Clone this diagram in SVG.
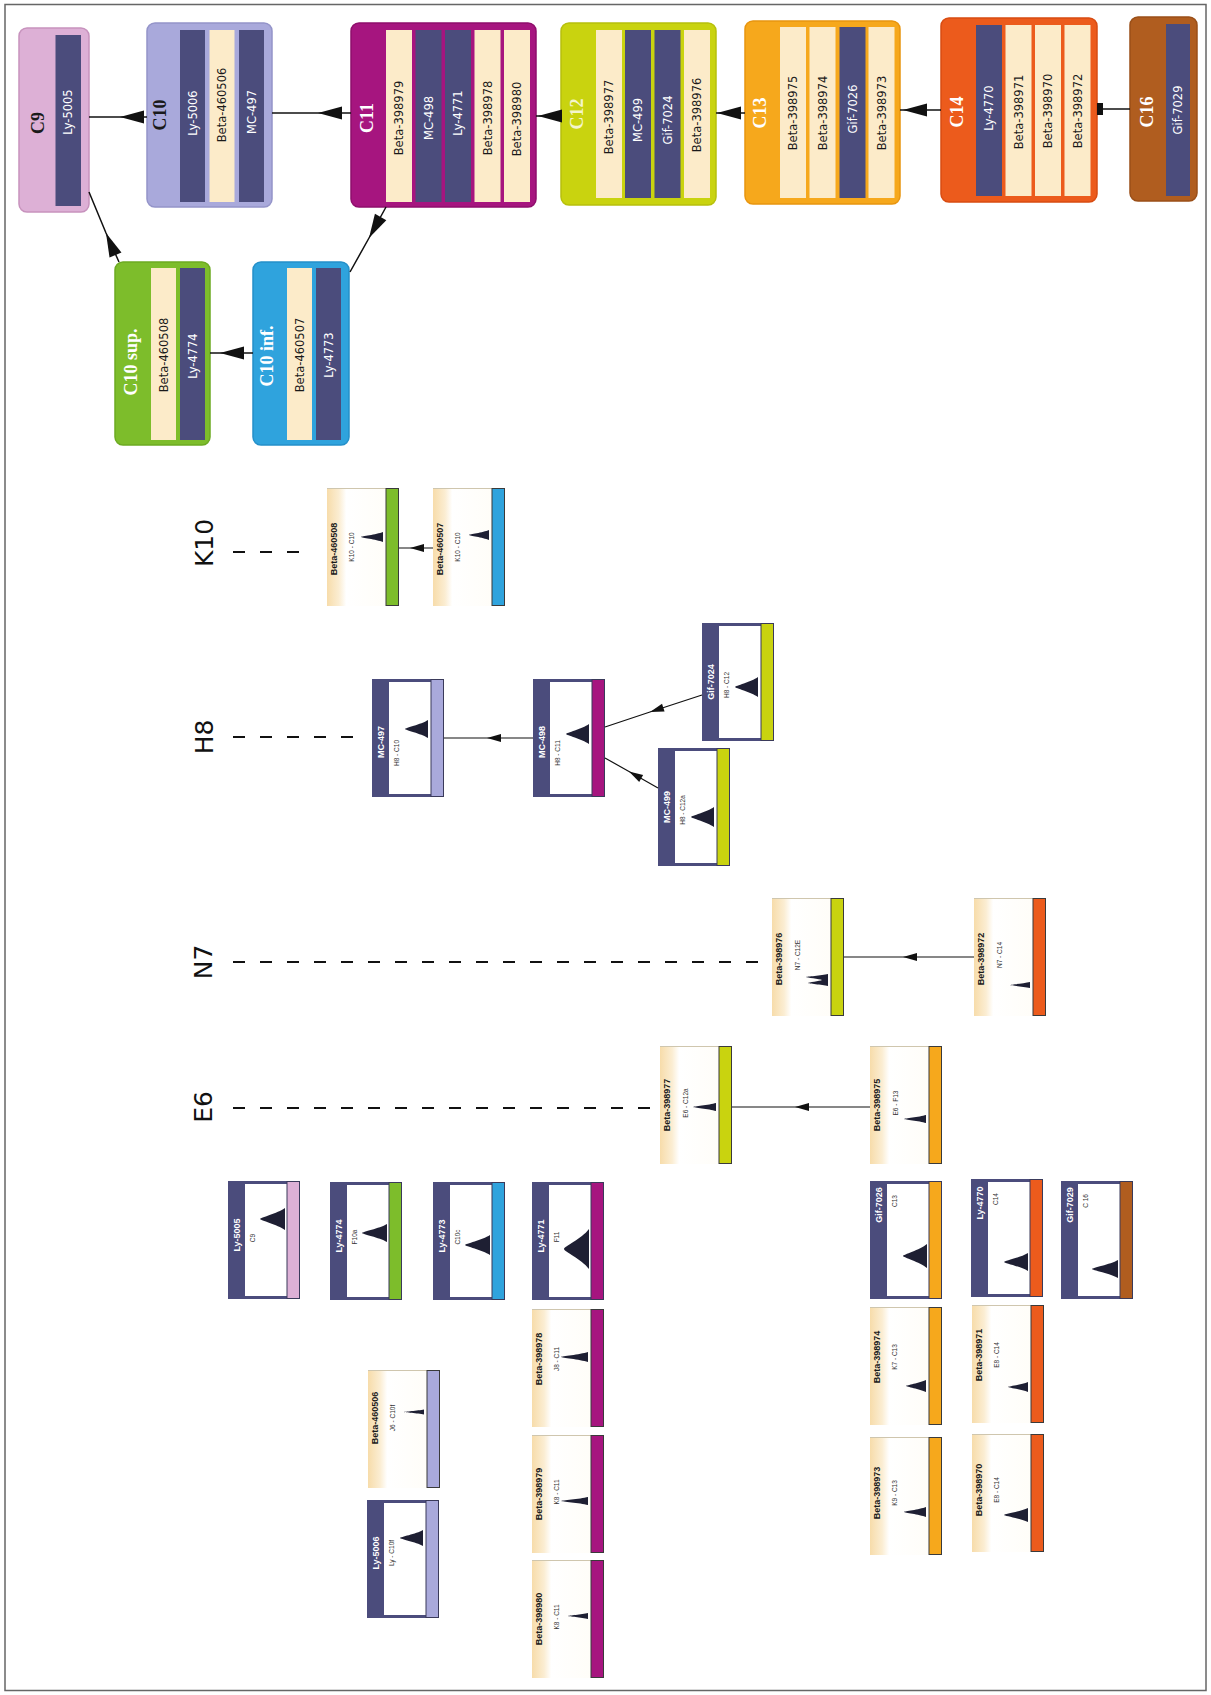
<svg xmlns="http://www.w3.org/2000/svg" xmlns:xlink="http://www.w3.org/1999/xlink" width="1211" height="1695" viewBox="0 0 1211 1695">
<style>
.box{stroke-width:1.5}
.ttl{font-family:"Liberation Serif",serif;font-weight:bold;font-size:18px;text-anchor:middle;dominant-baseline:central}
.lbl{font-family:"DejaVu Sans",sans-serif;font-size:11.5px;text-anchor:middle;dominant-baseline:central}
.lw{fill:#ffffff}
.ld{fill:#1a1a1a}
.lvl{font-family:"DejaVu Sans",sans-serif;font-size:25px;fill:#111;text-anchor:middle;dominant-baseline:central}
.cn{font-family:"Liberation Sans",sans-serif;font-weight:bold;font-size:9px;text-anchor:middle;dominant-baseline:central}
.cs{font-family:"Liberation Sans",sans-serif;font-size:6.5px;fill:#333;text-anchor:middle;dominant-baseline:central}
.pk{fill:#1e1f33}
.dk{fill:#4b4c7c}
.cr{fill:#fcebc9}
.con{fill:none;stroke:#111;stroke-width:1.5}
.cons{fill:none;stroke:#111;stroke-width:1.2}
.dash{fill:none;stroke:#111;stroke-width:2;stroke-dasharray:12 15}
</style>
<defs>
<linearGradient id="creamHead" x1="0" y1="0" x2="1" y2="0">
<stop offset="0" stop-color="#f7dcaa"/>
<stop offset="0.2" stop-color="#fbedd2"/>
<stop offset="0.32" stop-color="#ffffff"/>
<stop offset="1" stop-color="#fffdf8"/>
</linearGradient>
<marker id="arrowBig" viewBox="-25 -8 26 16" refX="0" refY="0" markerWidth="26" markerHeight="16" markerUnits="userSpaceOnUse" orient="auto">
<path d="M0,0 L-24,-6.5 L-24,6.5 Z" fill="#111"/>
</marker>
<marker id="arrowSmall" viewBox="-15 -5 16 10" refX="0" refY="0" markerWidth="16" markerHeight="10" markerUnits="userSpaceOnUse" orient="auto">
<path d="M0,0 L-14,-4 L-14,4 Z" fill="#111"/>
</marker>
<marker id="tee" viewBox="-7 -7 8 14" refX="0" refY="0" markerWidth="8" markerHeight="14" markerUnits="userSpaceOnUse" orient="auto">
<rect x="-6" y="-6" width="6" height="12" fill="#111"/>
</marker>
<g id="darkCard">
<rect x="0" y="0" width="72" height="118" fill="#4b4c7c"/>
<rect x="17" y="3" width="42" height="112" fill="#ffffff"/>
<rect x="59" y="0.5" width="12.5" height="117" fill="currentColor" stroke="#3a3a5a" stroke-width="1"/>
</g>
<g id="betaCard">
<rect x="0" y="0" width="60" height="118" fill="url(#creamHead)"/>
<line x1="0" y1="0.5" x2="60" y2="0.5" stroke="#cfc6ae" stroke-width="1"/>
<rect x="59" y="0.5" width="12.5" height="117" fill="currentColor" stroke="#3a3a3a" stroke-width="1"/>
</g>
</defs>
<rect x="0" y="0" width="1211" height="1695" fill="#ffffff"/>
<rect x="5" y="4.5" width="1201" height="1686" fill="none" stroke="#666666" stroke-width="1.5"/>

<!-- ===== top chain nodes ===== -->
<g id="node-C9">
<rect class="box" x="19" y="28" width="70" height="184" rx="8" fill="#ddb0d6" stroke="#c792bd"/>
<rect class="dk" x="55.5" y="35" width="25.5" height="171"/>
<text class="ttl ld" transform="translate(38,123) rotate(-90)">C9</text>
<text class="lbl lw" transform="translate(68,112) rotate(-90)">Ly-5005</text>
</g>
<g id="node-C10">
<rect class="box" x="147" y="23" width="125" height="184" rx="8" fill="#a9a9db" stroke="#9494c9"/>
<rect class="dk" x="180" y="30" width="25" height="172"/>
<rect class="cr" x="209.5" y="30" width="25" height="172"/>
<rect class="dk" x="239" y="30" width="25" height="172"/>
<text class="ttl ld" transform="translate(160,115) rotate(-90)">C10</text>
<text class="lbl lw" transform="translate(192.5,113) rotate(-90)">Ly-5006</text>
<text class="lbl ld" transform="translate(222,105) rotate(-90)">Beta-460506</text>
<text class="lbl lw" transform="translate(251.5,112) rotate(-90)">MC-497</text>
</g>
<g id="node-C11">
<rect class="box" x="351" y="23" width="185" height="184" rx="8" fill="#a6157f" stroke="#8f0e6c"/>
<rect class="cr" x="386" y="30" width="26" height="172"/>
<rect class="dk" x="415.5" y="30" width="26" height="172"/>
<rect class="dk" x="445" y="30" width="26" height="172"/>
<rect class="cr" x="474.5" y="30" width="26" height="172"/>
<rect class="cr" x="504" y="30" width="26" height="172"/>
<text class="ttl lw" transform="translate(367,118) rotate(-90)">C11</text>
<text class="lbl ld" transform="translate(399,118) rotate(-90)">Beta-398979</text>
<text class="lbl lw" transform="translate(428.5,118) rotate(-90)">MC-498</text>
<text class="lbl lw" transform="translate(458,113) rotate(-90)">Ly-4771</text>
<text class="lbl ld" transform="translate(487.5,118) rotate(-90)">Beta-398978</text>
<text class="lbl ld" transform="translate(517,119) rotate(-90)">Beta-398980</text>
</g>
<g id="node-C12">
<rect class="box" x="561" y="23" width="155" height="182" rx="8" fill="#c9d30f" stroke="#b7c00c"/>
<rect class="cr" x="596" y="30" width="26" height="168"/>
<rect class="dk" x="625" y="30" width="26" height="168"/>
<rect class="dk" x="654.5" y="30" width="26" height="168"/>
<rect class="cr" x="684" y="30" width="26" height="168"/>
<text class="ttl" fill="#f4f5cc" transform="translate(577,114) rotate(-90)">C12</text>
<text class="lbl ld" transform="translate(609,117) rotate(-90)">Beta-398977</text>
<text class="lbl lw" transform="translate(638,120) rotate(-90)">MC-499</text>
<text class="lbl lw" transform="translate(667.5,120) rotate(-90)">Gif-7024</text>
<text class="lbl ld" transform="translate(697,115) rotate(-90)">Beta-398976</text>
</g>
<g id="node-C13">
<rect class="box" x="745" y="21" width="155" height="183" rx="8" fill="#f6a81c" stroke="#e8950f"/>
<rect class="cr" x="780" y="27" width="26" height="171"/>
<rect class="cr" x="809.5" y="27" width="26" height="171"/>
<rect class="dk" x="839.5" y="27" width="26" height="171"/>
<rect class="cr" x="868.5" y="27" width="26" height="171"/>
<text class="ttl lw" transform="translate(760,113) rotate(-90)">C13</text>
<text class="lbl ld" transform="translate(793,113) rotate(-90)">Beta-398975</text>
<text class="lbl ld" transform="translate(822.5,113) rotate(-90)">Beta-398974</text>
<text class="lbl lw" transform="translate(852.5,109) rotate(-90)">Gif-7026</text>
<text class="lbl ld" transform="translate(881.5,113) rotate(-90)">Beta-398973</text>
</g>
<g id="node-C14">
<rect class="box" x="941" y="18" width="156" height="184" rx="8" fill="#ec5b1c" stroke="#d84c12"/>
<rect class="dk" x="976" y="25" width="26" height="171"/>
<rect class="cr" x="1005.5" y="25" width="26" height="171"/>
<rect class="cr" x="1035" y="25" width="26" height="171"/>
<rect class="cr" x="1064.5" y="25" width="26" height="171"/>
<text class="ttl lw" transform="translate(957,112) rotate(-90)">C14</text>
<text class="lbl lw" transform="translate(989,108) rotate(-90)">Ly-4770</text>
<text class="lbl ld" transform="translate(1018.5,112) rotate(-90)">Beta-398971</text>
<text class="lbl ld" transform="translate(1048,111) rotate(-90)">Beta-398970</text>
<text class="lbl ld" transform="translate(1077.5,111) rotate(-90)">Beta-398972</text>
</g>
<g id="node-C16">
<rect class="box" x="1130" y="17" width="67" height="184" rx="8" fill="#b05d1f" stroke="#9a4f18"/>
<rect class="dk" x="1166" y="24" width="24" height="172"/>
<text class="ttl lw" transform="translate(1147,112) rotate(-90)">C16</text>
<text class="lbl lw" transform="translate(1178,110) rotate(-90)">Gif-7029</text>
</g>
<g id="node-C10sup">
<rect class="box" x="115" y="262" width="95" height="183" rx="8" fill="#7dbd2b" stroke="#6caa22"/>
<rect class="cr" x="151" y="268" width="25" height="172"/>
<rect class="dk" x="180" y="268" width="25" height="172"/>
<text class="ttl lw" transform="translate(131,362) rotate(-90)">C10 sup.</text>
<text class="lbl ld" transform="translate(163.5,355) rotate(-90)">Beta-460508</text>
<text class="lbl lw" transform="translate(192.5,356) rotate(-90)">Ly-4774</text>
</g>
<g id="node-C10inf">
<rect class="box" x="253" y="262" width="96" height="183" rx="8" fill="#2fa3dd" stroke="#2590c9"/>
<rect class="cr" x="287" y="268" width="25" height="172"/>
<rect class="dk" x="316" y="268" width="25" height="172"/>
<text class="ttl lw" transform="translate(267,356) rotate(-90)">C10 inf.</text>
<text class="lbl ld" transform="translate(299.5,355) rotate(-90)">Beta-460507</text>
<text class="lbl lw" transform="translate(328.5,355) rotate(-90)">Ly-4773</text>
</g>

<!-- ===== level labels ===== -->
<g id="level-K10">
<text class="lvl" transform="translate(204,543) rotate(-90)">K10</text>
<path class="dash" d="M233,552 H312"/>
</g>
<g id="level-H8">
<text class="lvl" transform="translate(204,737) rotate(-90)">H8</text>
<path class="dash" d="M233,737 H362"/>
</g>
<g id="level-N7">
<text class="lvl" transform="translate(203,962) rotate(-90)">N7</text>
<path class="dash" d="M233,962 H762"/>
</g>
<g id="level-E6">
<text class="lvl" transform="translate(203,1107) rotate(-90)">E6</text>
<path class="dash" d="M233,1108 H655"/>
</g>

<!-- ===== sample cards ===== -->
<g id="card-Beta-460508" transform="translate(327,488)">
<use xlink:href="#betaCard" color="#7dbd2b"/>
<text class="cn ld" transform="translate(7,61) rotate(-90)">Beta-460508</text>
<text class="cs" transform="translate(24,59) rotate(-90)">K10 - C10</text>
<path class="pk" d="M56,44 C49.4,46.5 34,48.4 34,49 C34,49.6 49.4,51.5 56,54 Z"/>
</g>
<g id="card-Beta-460507" transform="translate(433,488)">
<use xlink:href="#betaCard" color="#2fa3dd"/>
<text class="cn ld" transform="translate(7,61) rotate(-90)">Beta-460507</text>
<text class="cs" transform="translate(24,59) rotate(-90)">K10 - C10</text>
<path class="pk" d="M56,42 C50,44.5 36,46.4 36,47 C36,47.6 50,49.5 56,52 Z"/>
</g>
<g id="card-MC-497" transform="translate(372,679)">
<use xlink:href="#darkCard" color="#a9a9db"/>
<text class="cn lw" transform="translate(8.5,63) rotate(-90)">MC-497</text>
<text class="cs" transform="translate(24,74) rotate(-90)">H8 - C10</text>
<path class="pk" d="M56,41 C49.1,45.5 33,48.9 33,50 C33,51.1 49.1,54.5 56,59 Z"/>
</g>
<g id="card-MC-498" transform="translate(533,679)">
<use xlink:href="#darkCard" color="#a6157f"/>
<text class="cn lw" transform="translate(8.5,63) rotate(-90)">MC-498</text>
<text class="cs" transform="translate(24,74) rotate(-90)">H8 - C11</text>
<path class="pk" d="M56,45 C49.1,50 33,53.8 33,55 C33,56.2 49.1,60 56,65 Z"/>
</g>
<g id="card-Gif-7024" transform="translate(702,623)">
<use xlink:href="#darkCard" color="#c9d30f"/>
<text class="cn lw" transform="translate(8.5,59) rotate(-90)">Gif-7024</text>
<text class="cs" transform="translate(24,62) rotate(-90)">H8 - C12</text>
<path class="pk" d="M56,54 C49.1,59 33,62.8 33,64 C33,65.2 49.1,69 56,74 Z"/>
</g>
<g id="card-MC-499" transform="translate(658,748)">
<use xlink:href="#darkCard" color="#c9d30f"/>
<text class="cn lw" transform="translate(8.5,59) rotate(-90)">MC-499</text>
<text class="cs" transform="translate(24,62) rotate(-90)">H8 - C12a</text>
<path class="pk" d="M56,59 C49.1,64 33,67.8 33,69 C33,70.2 49.1,74 56,79 Z"/>
</g>
<g id="card-Beta-398976" transform="translate(772,898)">
<use xlink:href="#betaCard" color="#c9d30f"/>
<text class="cn ld" transform="translate(7,61) rotate(-90)">Beta-398976</text>
<text class="cs" transform="translate(25,57) rotate(-90)">N7 - C12E</text>
<path class="pk" d="M56,76 C50,77.5 34,78.7 34,79 C34,79.5 48,81 50,82 C48,83 36,84.5 36,85 C36,85.4 50,86.8 56,88 Z"/>
</g>
<g id="card-Beta-398972" transform="translate(974,898)">
<use xlink:href="#betaCard" color="#ec5b1c"/>
<text class="cn ld" transform="translate(7,61) rotate(-90)">Beta-398972</text>
<text class="cs" transform="translate(25,57) rotate(-90)">N7 - C14</text>
<path class="pk" d="M56,84 C50,85.5 36,86.6 36,87 C36,87.4 50,88.5 56,90 Z"/>
</g>
<g id="card-Beta-398977" transform="translate(660,1046)">
<use xlink:href="#betaCard" color="#c9d30f"/>
<text class="cn ld" transform="translate(7,59) rotate(-90)">Beta-398977</text>
<text class="cs" transform="translate(25,57) rotate(-90)">E6 - C12a</text>
<path class="pk" d="M56,57 C49.1,59 33,60.5 33,61 C33,61.5 49.1,63 56,65 Z"/>
</g>
<g id="card-Beta-398975" transform="translate(870,1046)">
<use xlink:href="#betaCard" color="#f6a81c"/>
<text class="cn ld" transform="translate(7,59) rotate(-90)">Beta-398975</text>
<text class="cs" transform="translate(25,57) rotate(-90)">E6 - F13</text>
<path class="pk" d="M56,69 C49.4,71 34,72.5 34,73 C34,73.5 49.4,75 56,77 Z"/>
</g>
<g id="card-Ly-5005" transform="translate(228,1181)">
<use xlink:href="#darkCard" color="#ddb0d6"/>
<text class="cn lw" transform="translate(8.5,54) rotate(-90)">Ly-5005</text>
<text class="cs" transform="translate(24,57) rotate(-90)">C9</text>
<path class="pk" d="M57,27 C49.5,32.5 32,36.7 32,38 C32,39.3 49.5,43.5 57,49 Z"/>
</g>
<g id="card-Ly-4774" transform="translate(330,1182)">
<use xlink:href="#darkCard" color="#7dbd2b"/>
<text class="cn lw" transform="translate(8.5,54) rotate(-90)">Ly-4774</text>
<text class="cs" transform="translate(24,55) rotate(-90)">F10a</text>
<path class="pk" d="M57,42 C49.5,46.5 32,49.9 32,51 C32,52.1 49.5,55.5 57,60 Z"/>
</g>
<g id="card-Ly-4773" transform="translate(433,1182)">
<use xlink:href="#darkCard" color="#2fa3dd"/>
<text class="cn lw" transform="translate(8.5,54) rotate(-90)">Ly-4773</text>
<text class="cs" transform="translate(24,55) rotate(-90)">C10c</text>
<path class="pk" d="M57,53 C49.5,58 32,61.8 32,63 C32,64.2 49.5,68 57,73 Z"/>
</g>
<g id="card-Ly-4771" transform="translate(532,1182)">
<use xlink:href="#darkCard" color="#a6157f"/>
<text class="cn lw" transform="translate(8.5,54) rotate(-90)">Ly-4771</text>
<text class="cs" transform="translate(24,55) rotate(-90)">F11</text>
<path class="pk" d="M57,47 C49.5,57 32,64.6 32,67 C32,69.4 49.5,77 57,87 Z"/>
</g>
<g id="card-Gif-7026" transform="translate(870,1181)">
<use xlink:href="#darkCard" color="#f6a81c"/>
<text class="cn lw" transform="translate(8.5,24) rotate(-90)">Gif-7026</text>
<text class="cs" transform="translate(24,20) rotate(-90)">C13</text>
<path class="pk" d="M57,63 C49.8,69 33,73.6 33,75 C33,76.4 49.8,81 57,87 Z"/>
</g>
<g id="card-Ly-4770" transform="translate(971,1179)">
<use xlink:href="#darkCard" color="#ec5b1c"/>
<text class="cn lw" transform="translate(8.5,24) rotate(-90)">Ly-4770</text>
<text class="cs" transform="translate(24,20) rotate(-90)">C14</text>
<path class="pk" d="M57,74 C49.8,78.5 33,81.9 33,83 C33,84.1 49.8,87.5 57,92 Z"/>
</g>
<g id="card-Gif-7029" transform="translate(1061,1181)">
<use xlink:href="#darkCard" color="#b05d1f"/>
<text class="cn lw" transform="translate(8.5,24) rotate(-90)">Gif-7029</text>
<text class="cs" transform="translate(24,20) rotate(-90)">C 16</text>
<path class="pk" d="M57,79 C49.2,83.5 31,86.9 31,88 C31,89.1 49.2,92.5 57,97 Z"/>
</g>
<g id="card-Beta-398978" transform="translate(532,1309)">
<use xlink:href="#betaCard" color="#a6157f"/>
<text class="cn ld" transform="translate(7,50) rotate(-90)">Beta-398978</text>
<text class="cs" transform="translate(24,50) rotate(-90)">J8 - C11</text>
<path class="pk" d="M56,43 C47.9,45.5 29,47.4 29,48 C29,48.6 47.9,50.5 56,53 Z"/>
</g>
<g id="card-Beta-398974" transform="translate(870,1307)">
<use xlink:href="#betaCard" color="#f6a81c"/>
<text class="cn ld" transform="translate(7,50) rotate(-90)">Beta-398974</text>
<text class="cs" transform="translate(24,50) rotate(-90)">K7 - C13</text>
<path class="pk" d="M56,73 C50,76 36,78.3 36,79 C36,79.7 50,82 56,85 Z"/>
</g>
<g id="card-Beta-398971" transform="translate(972,1305)">
<use xlink:href="#betaCard" color="#ec5b1c"/>
<text class="cn ld" transform="translate(7,50) rotate(-90)">Beta-398971</text>
<text class="cs" transform="translate(24,50) rotate(-90)">E8 - C14</text>
<path class="pk" d="M56,77 C50,79.5 36,81.4 36,82 C36,82.6 50,84.5 56,87 Z"/>
</g>
<g id="card-Beta-460506" transform="translate(368,1370)">
<use xlink:href="#betaCard" color="#a9a9db"/>
<text class="cn ld" transform="translate(7,48) rotate(-90)">Beta-460506</text>
<text class="cs" transform="translate(24,48) rotate(-90)">J6 - C10f</text>
<path class="pk" d="M56,39.5 C50,40.7 36,41.7 36,42 C36,42.3 50,43.3 56,44.5 Z"/>
</g>
<g id="card-Beta-398979" transform="translate(532,1435)">
<use xlink:href="#betaCard" color="#a6157f"/>
<text class="cn ld" transform="translate(7,59) rotate(-90)">Beta-398979</text>
<text class="cs" transform="translate(24,57) rotate(-90)">K8 - C11</text>
<path class="pk" d="M56,62 C47.9,64 29,65.5 29,66 C29,66.5 47.9,68 56,70 Z"/>
</g>
<g id="card-Beta-398973" transform="translate(870,1437)">
<use xlink:href="#betaCard" color="#f6a81c"/>
<text class="cn ld" transform="translate(7,56) rotate(-90)">Beta-398973</text>
<text class="cs" transform="translate(24,56) rotate(-90)">K9 - C13</text>
<path class="pk" d="M56,70 C49.4,72.5 34,74.4 34,75 C34,75.6 49.4,77.5 56,80 Z"/>
</g>
<g id="card-Beta-398970" transform="translate(972,1434)">
<use xlink:href="#betaCard" color="#ec5b1c"/>
<text class="cn ld" transform="translate(7,56) rotate(-90)">Beta-398970</text>
<text class="cs" transform="translate(24,56) rotate(-90)">E8 - C14</text>
<path class="pk" d="M56,74 C48.8,77.5 32,80.2 32,81 C32,81.8 48.8,84.5 56,88 Z"/>
</g>
<g id="card-Ly-5006" transform="translate(367,1500)">
<use xlink:href="#darkCard" color="#a9a9db"/>
<text class="cn lw" transform="translate(8.5,53) rotate(-90)">Ly-5006</text>
<text class="cs" transform="translate(24,53) rotate(-90)">Ly - C10f</text>
<path class="pk" d="M56,30 C49.1,34 33,37 33,38 C33,39 49.1,42 56,46 Z"/>
</g>
<g id="card-Beta-398980" transform="translate(532,1560)">
<use xlink:href="#betaCard" color="#a6157f"/>
<text class="cn ld" transform="translate(7,59) rotate(-90)">Beta-398980</text>
<text class="cs" transform="translate(24,57) rotate(-90)">K8 - C11</text>
<path class="pk" d="M56,53 C50,54.5 36,55.6 36,56 C36,56.4 50,57.5 56,59 Z"/>
</g>

<!-- ===== connectors ===== -->
<g id="connectors">
<path class="con" marker-mid="url(#arrowBig)" d="M147,117 L120,117 L89,117"/>
<path class="con" marker-mid="url(#arrowBig)" d="M351,113 L318,113 L272,113"/>
<path class="con" marker-mid="url(#arrowBig)" d="M561,116 L538,116 L536,116"/>
<path class="con" marker-mid="url(#arrowBig)" d="M745,113 L717,113 L716,113"/>
<path class="con" marker-mid="url(#arrowBig)" d="M941,110 L903,110 L900,110"/>
<path class="con" marker-end="url(#tee)" d="M1130,109 L1097,109"/>
<path class="con" marker-mid="url(#arrowBig)" d="M386,207 L369,238 L350,272"/>
<path class="con" marker-mid="url(#arrowBig)" d="M253,353 L220,353 L210,353"/>
<path class="con" marker-mid="url(#arrowBig)" d="M119,262 L106,233 L89,192"/>
<path class="cons" marker-mid="url(#arrowSmall)" d="M433,548 L410,548 L399,548"/>
<path class="cons" marker-mid="url(#arrowSmall)" d="M533,738 L487,738 L444,738"/>
<path class="cons" marker-mid="url(#arrowSmall)" d="M702,695 L650,712 L605,727"/>
<path class="cons" marker-mid="url(#arrowSmall)" d="M658,788 L629,771.5 L605,758"/>
<path class="cons" marker-mid="url(#arrowSmall)" d="M974,957 L903,957 L844,957"/>
<path class="cons" marker-mid="url(#arrowSmall)" d="M870,1107 L795,1107 L732,1107"/>
</g>
</svg>
